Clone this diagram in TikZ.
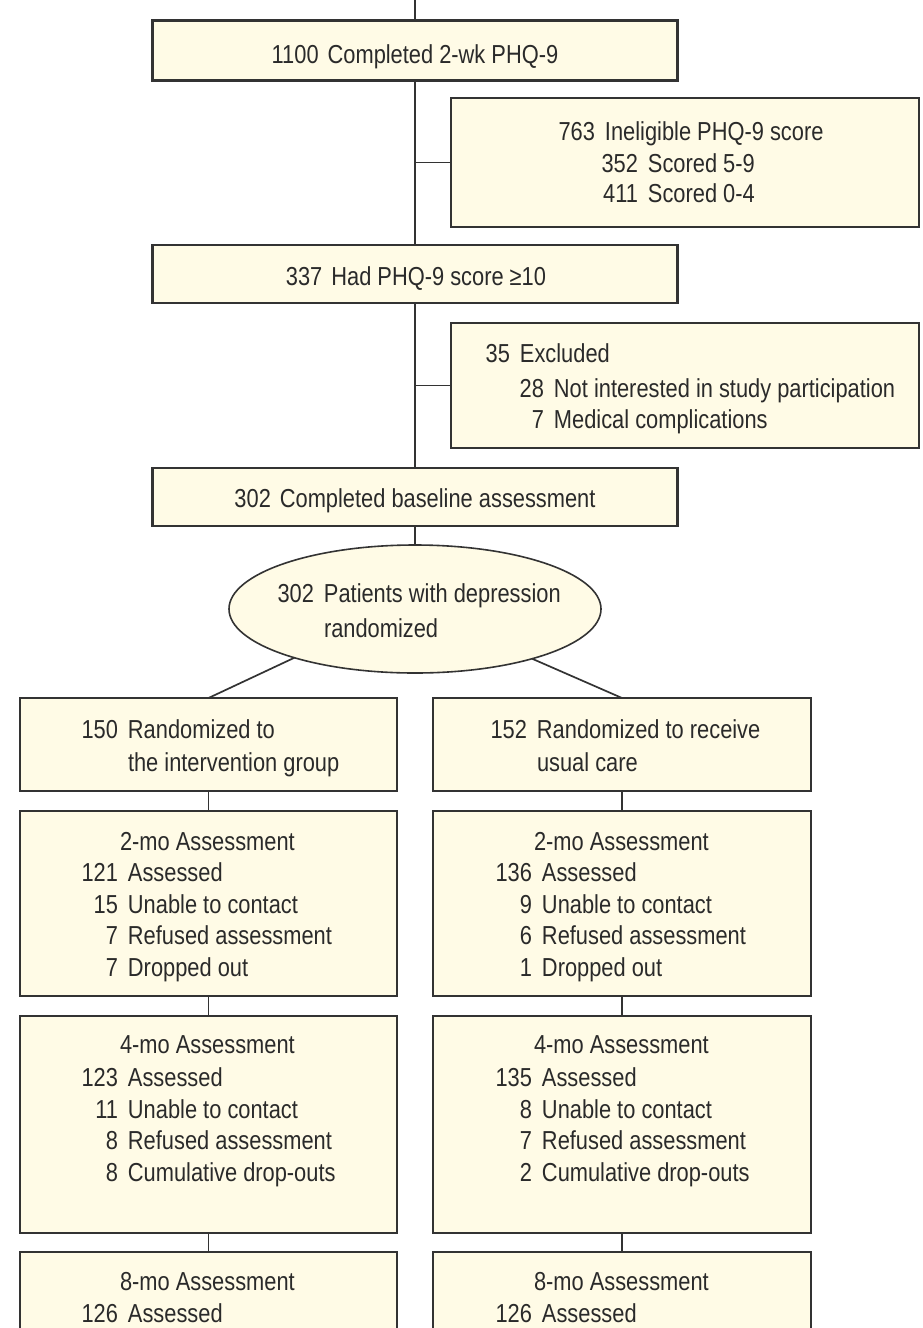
\documentclass[tikz,border=0pt]{standalone}
\usepackage{fontspec}
\setmainfont{Liberation Sans}[FakeStretch=0.84]
\usetikzlibrary{shapes.geometric}
\definecolor{boxfill}{HTML}{FFFBE6}
\definecolor{boxline}{HTML}{333333}
\definecolor{textc}{HTML}{2A2A2A}
\tikzset{
  flowbox/.style={draw=boxline, line width=1.25pt, fill=boxfill, inner sep=0pt, outer sep=0pt},
  ovalbox/.style={ellipse, draw=boxline, line width=0.8pt, fill=boxfill, inner sep=0pt, outer sep=0pt, minimum width=186pt, minimum height=64pt},
  txt/.style={font=\fontsize{13pt}{15pt}\selectfont, text=textc, inner sep=0pt, outer sep=0pt},
  link/.style={draw=boxline, line width=0.85pt},
}
\newcommand{\rowtxt}[5]{\node[txt,anchor=base west] (#1) at ({#2-40},#3) {\makebox[20pt][r]{#4}\hspace{5pt}#5};}
\begin{document}
\begin{tikzpicture}[x=0.5pt,y=-0.5pt]
\path[use as bounding box] (0,0) rectangle (922,1328);
\clip (0,0) rectangle (922,1328);
\fill[white] (0,0) rectangle (922,1328);

% boxes
\node[flowbox, minimum width=262.5pt, minimum height=30pt] (A) at (415,50.5) {};
\node[flowbox, minimum width=234pt, minimum height=64.5pt] (B) at (685,162.5) {};
\node[flowbox, minimum width=262.5pt, minimum height=29pt] (C) at (415,274) {};
\node[flowbox, minimum width=234pt, minimum height=62.5pt] (D) at (685,385.5) {};
\node[flowbox, minimum width=262.5pt, minimum height=29pt] (E) at (415,497) {};
\node[ovalbox] (ell) at (415,609) {};
\node[flowbox, minimum width=188.5pt, minimum height=46.5pt] (L1) at (208.5,744.5) {};
\node[flowbox, minimum width=189pt, minimum height=46.5pt] (R1) at (622,744.5) {};
\node[flowbox, minimum width=188.5pt, minimum height=92.5pt] (L2) at (208.5,903.5) {};
\node[flowbox, minimum width=189pt, minimum height=92.5pt] (R2) at (622,903.5) {};
\node[flowbox, minimum width=188.5pt, minimum height=108.5pt] (L3) at (208.5,1124.5) {};
\node[flowbox, minimum width=189pt, minimum height=108.5pt] (R3) at (622,1124.5) {};
\node[flowbox, minimum width=188.5pt, minimum height=84pt] (L4) at (208.5,1336) {};
\node[flowbox, minimum width=189pt, minimum height=84pt] (R4) at (622,1336) {};

% connectors
\coordinate (topend) at (415,0);
\draw[link] (topend) -- (A.north);
\draw[link] (A.south) -- (C.north);
\draw[link] (C.south) -- (E.north);
\draw[link] (E.south) -- (ell.north);
\draw[link] (B.west) -- (B.west -| A.south);
\draw[link] (D.west) -- (D.west -| C.south);
\draw[link] (ell.202) -- (L1.north);
\draw[link] (ell.337) -- (R1.north);
\draw[link] (L1.south) -- (L2.north);
\draw[link] (R1.south) -- (R2.north);
\draw[link] (L2.south) -- (L3.north);
\draw[link] (R2.south) -- (R3.north);
\draw[link] (L3.south) -- (L4.north);
\draw[link] (R3.south) -- (R4.north);

% texts
\node[txt,anchor=base] (tA) at (415,63) {1100\hspace{4.5pt}Completed 2-wk PHQ-9};
\rowtxt{tB1}{595}{140}{763}{Ineligible PHQ-9 score}
\rowtxt{tB2}{638}{172}{352}{Scored 5-9}
\rowtxt{tB3}{638}{202}{411}{Scored 0-4}
\node[txt,anchor=base] (tC) at (416,285) {337\hspace{4.5pt}Had PHQ-9 score ≥10};
\rowtxt{tD1}{510}{362}{35}{Excluded}
\rowtxt{tD2}{544}{397}{28}{Not interested in study participation}
\rowtxt{tD3}{544}{428}{7}{Medical complications}
\node[txt,anchor=base] (tE) at (415,507) {302\hspace{4.5pt}Completed baseline assessment};
\rowtxt{tO1}{314}{602}{302}{Patients with depression}
\rowtxt{tO2}{314}{637}{}{randomized}
\rowtxt{tL11}{118}{738}{150}{Randomized to}
\rowtxt{tL12}{118}{771}{}{the intervention group}
\rowtxt{tR11}{527}{738}{152}{Randomized to receive}
\rowtxt{tR12}{527}{771}{}{usual care}

\node[txt,anchor=base west] (tL2h) at (120,850) {2-mo Assessment};
\rowtxt{tL21}{118}{881.5}{121}{Assessed}
\rowtxt{tL22}{118}{913}{15}{Unable to contact}
\rowtxt{tL23}{118}{944.5}{7}{Refused assessment}
\rowtxt{tL24}{118}{976}{7}{Dropped out}
\node[txt,anchor=base west] (tR2h) at (534,850) {2-mo Assessment};
\rowtxt{tR21}{532}{881.5}{136}{Assessed}
\rowtxt{tR22}{532}{913}{9}{Unable to contact}
\rowtxt{tR23}{532}{944.5}{6}{Refused assessment}
\rowtxt{tR24}{532}{976}{1}{Dropped out}

\node[txt,anchor=base west] (tL3h) at (120,1053) {4-mo Assessment};
\rowtxt{tL31}{118}{1086}{123}{Assessed}
\rowtxt{tL32}{118}{1118}{11}{Unable to contact}
\rowtxt{tL33}{118}{1149}{8}{Refused assessment}
\rowtxt{tL34}{118}{1181}{8}{Cumulative drop-outs}
\node[txt,anchor=base west] (tR3h) at (534,1053) {4-mo Assessment};
\rowtxt{tR31}{532}{1086}{135}{Assessed}
\rowtxt{tR32}{532}{1118}{8}{Unable to contact}
\rowtxt{tR33}{532}{1149}{7}{Refused assessment}
\rowtxt{tR34}{532}{1181}{2}{Cumulative drop-outs}

\node[txt,anchor=base west] (tL4h) at (120,1290) {8-mo Assessment};
\rowtxt{tL41}{118}{1322}{126}{Assessed}
\node[txt,anchor=base west] (tR4h) at (534,1290) {8-mo Assessment};
\rowtxt{tR41}{532}{1322}{126}{Assessed}
\end{tikzpicture}
\end{document}
